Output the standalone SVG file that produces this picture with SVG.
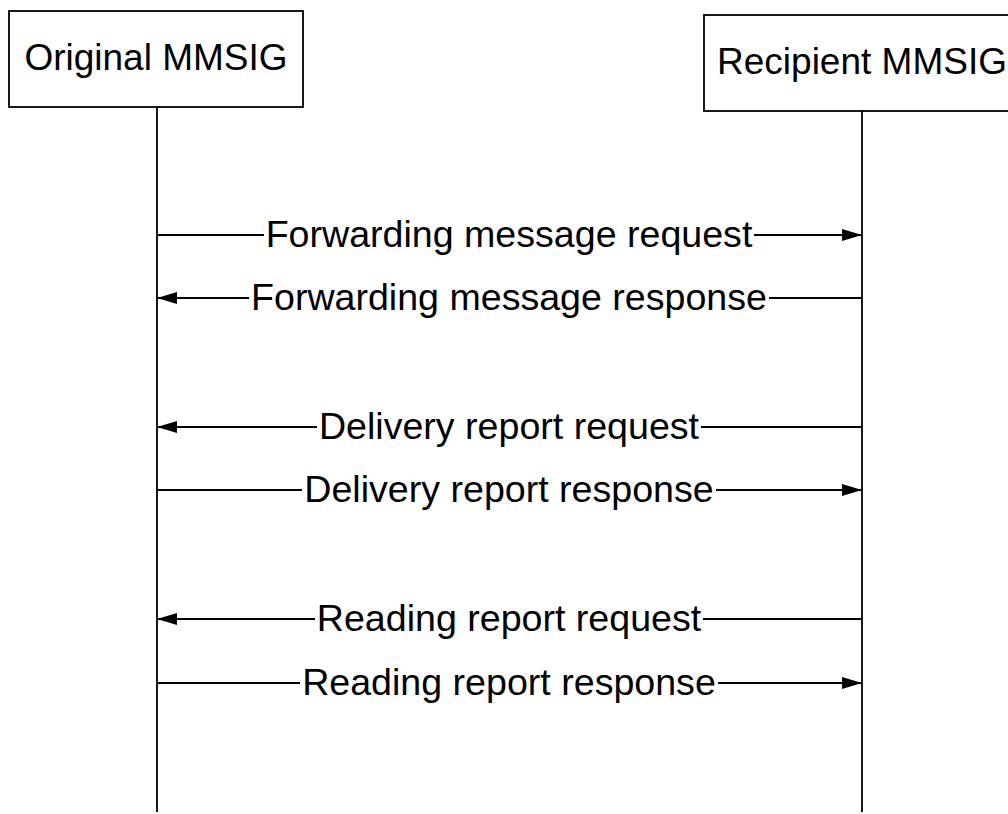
<svg xmlns="http://www.w3.org/2000/svg" width="1008" height="814" viewBox="0 0 1008 814">
<style>
.box{fill:#fff;stroke:#000;stroke-width:1.8}
.life{stroke:#000;stroke-width:1.8;fill:none}
.msg{stroke:#000;stroke-width:1.8;fill:none}
.head{fill:#000}
.t{font-family:"Liberation Sans",Arial,sans-serif;font-size:37px;fill:#000;text-anchor:middle}
.m{font-size:37.6px}
</style>
<defs>
<path id="hr" d="M0,0 L-20,-6 L-20,6 Z"/>
<path id="hl" d="M0,0 L20,-6 L20,6 Z"/>
</defs>
<rect width="1008" height="814" fill="#fff"/>
<g id="original-mmsig">
<rect class="box" x="9" y="11" width="294" height="96"/>
<text class="t" x="156" y="70">Original MMSIG</text>
<line class="life" x1="157" y1="107" x2="157" y2="812"/>
</g>
<g id="recipient-mmsig">
<rect class="box" x="704" y="15" width="320" height="96"/>
<text class="t" x="862" y="74">Recipient MMSIG</text>
<line class="life" x1="862" y1="111" x2="862" y2="812"/>
</g>
<g id="connectors">
<g id="m1">
<line class="msg" x1="157" y1="235" x2="264" y2="235"/>
<line class="msg" x1="754" y1="235" x2="862" y2="235"/>
<use href="#hr" class="head" x="862" y="235"/>
<text class="t m" x="509" y="247">Forwarding message request</text>
</g>
<g id="m2">
<line class="msg" x1="157" y1="298" x2="249" y2="298"/>
<line class="msg" x1="769" y1="298" x2="862" y2="298"/>
<use href="#hl" class="head" x="157" y="298"/>
<text class="t m" x="509" y="310">Forwarding message response</text>
</g>
<g id="m3">
<line class="msg" x1="157" y1="427" x2="317" y2="427"/>
<line class="msg" x1="701" y1="427" x2="862" y2="427"/>
<use href="#hl" class="head" x="157" y="427"/>
<text class="t m" x="509" y="439">Delivery report request</text>
</g>
<g id="m4">
<line class="msg" x1="157" y1="490" x2="302" y2="490"/>
<line class="msg" x1="716" y1="490" x2="862" y2="490"/>
<use href="#hr" class="head" x="862" y="490"/>
<text class="t m" x="509" y="502">Delivery report response</text>
</g>
<g id="m5">
<line class="msg" x1="157" y1="619" x2="315" y2="619"/>
<line class="msg" x1="703" y1="619" x2="862" y2="619"/>
<use href="#hl" class="head" x="157" y="619"/>
<text class="t m" x="509" y="631">Reading report request</text>
</g>
<g id="m6">
<line class="msg" x1="157" y1="683" x2="300" y2="683"/>
<line class="msg" x1="718" y1="683" x2="862" y2="683"/>
<use href="#hr" class="head" x="862" y="683"/>
<text class="t m" x="509" y="695">Reading report response</text>
</g>
</g>
</svg>
